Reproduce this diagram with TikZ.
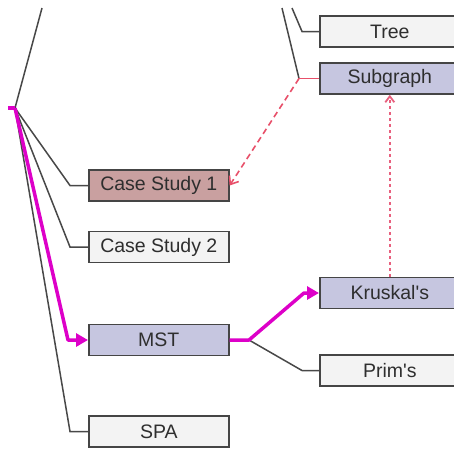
\documentclass[tikz,border=0pt]{standalone}
\usepackage{fontspec}
\setmainfont{Liberation Sans}[Ligatures=TeXOff]
\usetikzlibrary{arrows.meta}
\definecolor{boxline}{HTML}{454545}
\definecolor{plainfill}{HTML}{F3F3F3}
\definecolor{lavfill}{HTML}{C6C6E0}
\definecolor{rosefill}{HTML}{C9A0A0}
\definecolor{txt}{HTML}{2E2E2E}
\definecolor{conncol}{HTML}{484848}
\definecolor{magpath}{HTML}{DD00C8}
\definecolor{reddash}{HTML}{E8506A}
\definecolor{pinkdot}{HTML}{E8607E}
\begin{document}
\begin{tikzpicture}[x=1pt,y=-1pt,
  box/.style={draw=boxline, line width=1.6pt, minimum width=140pt, minimum height=31pt,
    inner sep=0pt, font=\fontsize{19.5}{20}\selectfont, text=txt, anchor=west},
  plainbox/.style={box, fill=plainfill},
  lavbox/.style={box, fill=lavfill},
  rosebox/.style={box, fill=rosefill},
  conn/.style={draw=conncol, line width=1.5pt},
  hot/.style={draw=magpath, line width=3.5pt, line join=round, -{Triangle[length=12pt,width=13pt]}},
  reddashed/.style={draw=reddash, line width=1.6pt, dash pattern=on 6pt off 4pt, -{Straight Barb[length=7pt,width=11pt]}},
  pinkdotted/.style={draw=pinkdot, line width=1.8pt, dash pattern=on 3pt off 3pt, -{Straight Barb[length=6pt,width=9pt]}}
]
\useasboundingbox (0,0) rectangle (454,448);
\clip (0,0) rectangle (454,448);
\fill[white] (0,0) rectangle (454,448);

% nodes
\node[plainbox] (tree) at (319,31.5) {Tree};
\node[lavbox] (sub) at (319,78.5) {Subgraph};
\node[rosebox] (cs1) at (88,185.5) {Case Study 1};
\node[plainbox] (cs2) at (88,247) {Case Study 2};
\node[lavbox] (mst) at (88,340) {MST};
\node[plainbox] (spa) at (88,431.5) {SPA};
\node[lavbox] (krus) at (319,293) {Kruskal's};
\node[plainbox] (prim) at (319,370.5) {Prim's};

% coordinates
\coordinate (root) at (15,108);
\coordinate (rootin) at (8,108);
\coordinate (up) at (42,8);
\coordinate (tA) at (292,8);
\coordinate (tB) at (302,31.5);
\coordinate (sA) at (282,8);
\coordinate (sB) at (299,78.5);
\coordinate (c1) at (70,185.5);
\coordinate (c2) at (70,247);
\coordinate (c3) at (68,340);
\coordinate (c4) at (70,431.5);
\coordinate (m1) at (249,340);
\coordinate (k1) at (304,293);
\coordinate (p1) at (302,370.5);

% plain connectors
\draw[conn] (root) -- (up);
\draw[conn] (tA) -- (tB) -- (tree.west);
\draw[conn] (sA) -- (sB);
\draw[draw=reddash, line width=1.6pt] (sB) -- (sub.west);
\draw[conn] (root) -- (c1) -- (cs1.west);
\draw[conn] (root) -- (c2) -- (cs2.west);
\draw[conn] (root) -- (c4) -- (spa.west);
\draw[conn] (m1) -- (p1) -- (prim.west);

% cross links
\draw[reddashed] (sB) -- (cs1.east);
\draw[pinkdotted] (krus.north) -- (sub.south);

% highlighted path
\draw[draw=magpath, line width=3.5pt] (rootin) -- (root);
\draw[hot] (root) -- (c3) -- (mst.west);
\draw[hot] (mst.east) -- (m1) -- (k1) -- (krus.west);
\end{tikzpicture}
\end{document}
